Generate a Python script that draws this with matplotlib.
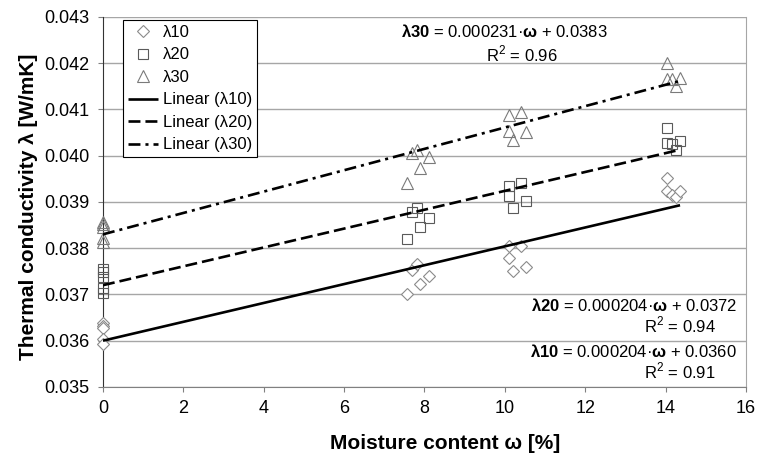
import numpy as np
import matplotlib
matplotlib.use("Agg")
from matplotlib import pyplot as plt

plt.rcParams['font.family'] = ['Liberation Sans', 'DejaVu Sans']
plt.rcParams['mathtext.fontset'] = 'custom'
plt.rcParams['mathtext.rm'] = 'Liberation Sans'
plt.rcParams['mathtext.bf'] = 'Liberation Sans:bold'
plt.rcParams['lines.scale_dashes'] = False

# moisture content of the samples [%]
w = [0.0, 0.0, 0.0, 0.0, 0.0,
     7.56, 7.68, 7.82, 7.88, 8.12,
     10.11, 10.11, 10.21, 10.40, 10.52,
     14.04, 14.04, 14.15, 14.27, 14.36]

lam10 = [0.03638, 0.03632, 0.03628, 0.03603, 0.03592,
         0.03701, 0.03753, 0.03766, 0.03722, 0.03739,
         0.03805, 0.03779, 0.03750, 0.03804, 0.03760,
         0.03952, 0.03923, 0.03916, 0.03911, 0.03924]

lam20 = [0.03755, 0.03748, 0.03738, 0.03715, 0.03704,
         0.03820, 0.03879, 0.03887, 0.03845, 0.03865,
         0.03934, 0.03912, 0.03887, 0.03942, 0.03901,
         0.04060, 0.04027, 0.04025, 0.04012, 0.04031]

lam30 = [0.03857, 0.03852, 0.03845, 0.03822, 0.03814,
         0.03942, 0.04006, 0.04013, 0.03973, 0.03997,
         0.04087, 0.04053, 0.04033, 0.04095, 0.04051,
         0.04200, 0.04165, 0.04165, 0.04150, 0.04167]

# trendline coefficients from the chart labels
slopes = [0.000204, 0.000204, 0.000231]
intercepts = [0.0360, 0.0372, 0.0383]
r2 = [0.91, 0.94, 0.96]
names = ['λ10', 'λ20', 'λ30']

fig = plt.figure(figsize=(7.6, 4.59), dpi=100)
ax = fig.add_axes([0.1355, 0.157, 0.846, 0.806])

ax.plot(w, lam10, linestyle='none', marker='D', ms=6.4, mfc='white',
        mec='#8a8a8a', mew=0.8, label='λ10', zorder=3, clip_on=False)
ax.plot(w, lam20, linestyle='none', marker='s', ms=7.8, mfc='none',
        mec='#5a5a5a', mew=0.8, label='λ20', zorder=3, clip_on=False)
ax.plot(w, lam30, linestyle='none', marker='^', ms=9, mfc='none',
        mec='#7a7a7a', mew=0.8, label='λ30', zorder=3, clip_on=False)

xs = np.array([0, max(w)])
styles = ['-', (0, (8.6, 3.6)), (0, (8.6, 3.6, 2.2, 3.6))]
for k in range(3):
    ax.plot(xs, slopes[k] * xs + intercepts[k], color='black', lw=1.9,
            linestyle=styles[k], label='Linear (%s)' % names[k], zorder=4,
            solid_capstyle='butt', dash_capstyle='butt')

ax.set_xlim(0, 16)
ax.set_ylim(0.035, 0.043)
ax.set_xticks(np.arange(0, 17, 2))
ax.set_yticks(np.arange(0.035, 0.0431, 0.001))
ax.set_yticklabels(['0.035', '0.036', '0.037', '0.038', '0.039',
                    '0.040', '0.041', '0.042', '0.043'])
ax.yaxis.grid(True, color='#a6a6a6', lw=1.0)
ax.set_axisbelow(True)
ax.tick_params(labelsize=13, length=3.6, width=0.8, color='#808080')
ax.tick_params(axis='x', pad=6)
ax.tick_params(axis='y', pad=6)
ax.spines['top'].set_visible(False)
ax.spines['left'].set_color('#333333')
ax.spines['bottom'].set_color('#808080')
ax.spines['right'].set_color('#a6a6a6')

ax.set_xlabel('Moisture content ω [%]', fontsize=15, fontweight='bold')
ax.set_ylabel('Thermal conductivity λ [W/mK]', fontsize=15, fontweight='bold')
ax.xaxis.set_label_coords(0.532, -0.128)
ax.yaxis.set_label_coords(-0.101, 0.486)

leg = ax.legend(loc='upper left', bbox_to_anchor=(0.031, 0.992), borderaxespad=0,
                fancybox=False, edgecolor='black', framealpha=1, fontsize=12,
                handlelength=1.8, handletextpad=0.3, labelspacing=0.45,
                borderpad=0.3, numpoints=1)
leg.get_frame().set_linewidth(0.8)
leg.set_zorder(5)

# trendline equations
eq_x = [15.78, 15.78, 9.98]
eq_y = [0.035758, 0.036753, 0.04268]
eq_ha = ['right', 'right', 'center']
r2_x = [14.36, 14.36, 10.43]
r2_y = [0.035346, 0.036342, 0.04220]
for k in range(3):
    ax.text(eq_x[k], eq_y[k],
            r'$\mathbf{%s}$ = %.6f·$\mathbf{ω}$ + %.4f' % (names[k], slopes[k], intercepts[k]),
            ha=eq_ha[k], va='center', fontsize=12)
    ax.text(r2_x[k], r2_y[k], 'R$^2$ = %.2f' % r2[k],
            ha='center', va='center', fontsize=12)

fig.savefig('out.png', dpi=100)
